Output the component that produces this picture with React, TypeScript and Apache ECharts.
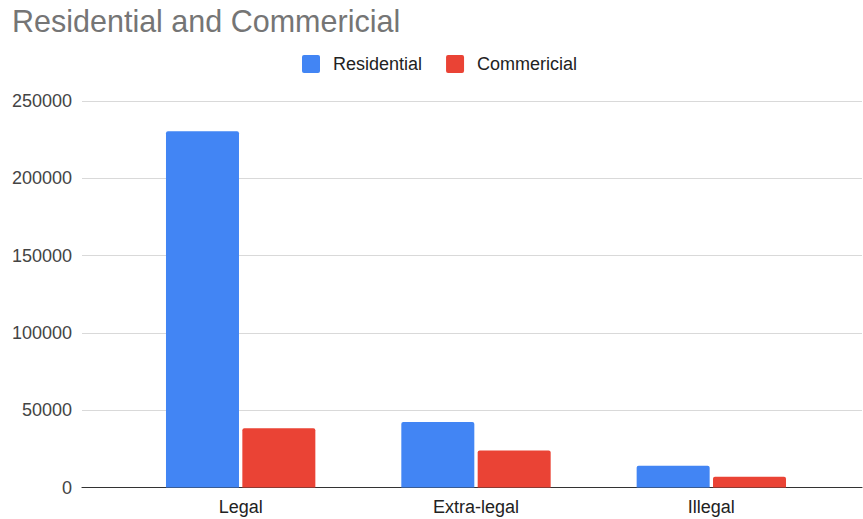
import React, { useEffect, useRef } from "react";
import * as echarts from "echarts";

const categories = ["Legal", "Extra-legal", "Illegal"];
const residential = [230400, 42400, 14000];
const commericial = [38400, 23900, 7000];
const yMin = 0;
const yMax = 250000;
const yInterval = 50000;

export default function App() {
  const ref = useRef<HTMLDivElement>(null);
  useEffect(() => {
    if (!ref.current) return;
    const chart = echarts.init(ref.current, undefined, { renderer: "svg" });
    const font = "'Liberation Sans', Arial, sans-serif";
    chart.setOption({
      animation: false,
      backgroundColor: "#ffffff",
      title: {
        text: "Residential and Commericial",
        left: 7,
        top: 0,
        padding: [5, 5, 5, 5],
        textStyle: { color: "#757575", fontSize: 30.5, fontWeight: "normal", fontFamily: font },
      },
      legend: {
        left: 297,
        top: 50,
        itemWidth: 18,
        itemHeight: 18,
        itemGap: 24,
        icon: "path://M2 0H16Q18 0 18 2V16Q18 18 16 18H2Q0 18 0 16V2Q0 0 2 0Z",
        textStyle: { color: "#222", fontSize: 18, fontFamily: font, padding: [0, 0, 0, 8] },
        data: ["Residential", "Commericial"],
      },
      grid: [
        { left: 82, right: 1, top: 101, bottom: 31.5 },
        { left: 123, right: 34, top: 101, bottom: 31.5 },
      ],
      xAxis: [
        {
          type: "value",
          gridIndex: 0,
          min: 0,
          max: 1,
          axisLine: { show: true, lineStyle: { color: "#333", width: 1.2 } },
          axisTick: { show: false },
          axisLabel: { show: false },
          splitLine: { show: false },
        },
        {
          type: "category",
          gridIndex: 1,
          data: categories,
          axisLine: { show: false },
          axisTick: { show: false },
          axisLabel: { color: "#222", fontSize: 18, fontFamily: font, margin: 10 },
        },
      ],
      yAxis: [
        {
          type: "value",
          gridIndex: 0,
          min: yMin,
          max: yMax,
          interval: yInterval,
          axisLine: { show: false },
          axisTick: { show: false },
          axisLabel: {
            color: "#444",
            fontSize: 18,
            fontFamily: font,
            margin: 10,
            formatter: (v: number) => String(v),
          },
          splitLine: { lineStyle: { color: "#d9d9d9", width: 1 } },
        },
        {
          type: "value",
          gridIndex: 1,
          min: yMin,
          max: yMax,
          interval: yInterval,
          show: false,
          splitLine: { show: false },
        },
      ],
      series: [
        {
          name: "Residential",
          type: "bar",
          xAxisIndex: 1,
          yAxisIndex: 1,
          data: residential,
          barWidth: 73,
          barGap: "4.6%",
          itemStyle: { color: "#4285F4", borderRadius: [2, 2, 0, 0] },
        },
        {
          name: "Commericial",
          type: "bar",
          xAxisIndex: 1,
          yAxisIndex: 1,
          data: commericial,
          barWidth: 73,
          barGap: "4.6%",
          itemStyle: { color: "#EA4335", borderRadius: [2, 2, 0, 0] },
        },
      ],
    });
    return () => chart.dispose();
  }, []);
  return (
    <div
      ref={ref}
      style={{ position: "absolute", left: 0, top: 0, width: 863, height: 519 }}
    />
  );
}
